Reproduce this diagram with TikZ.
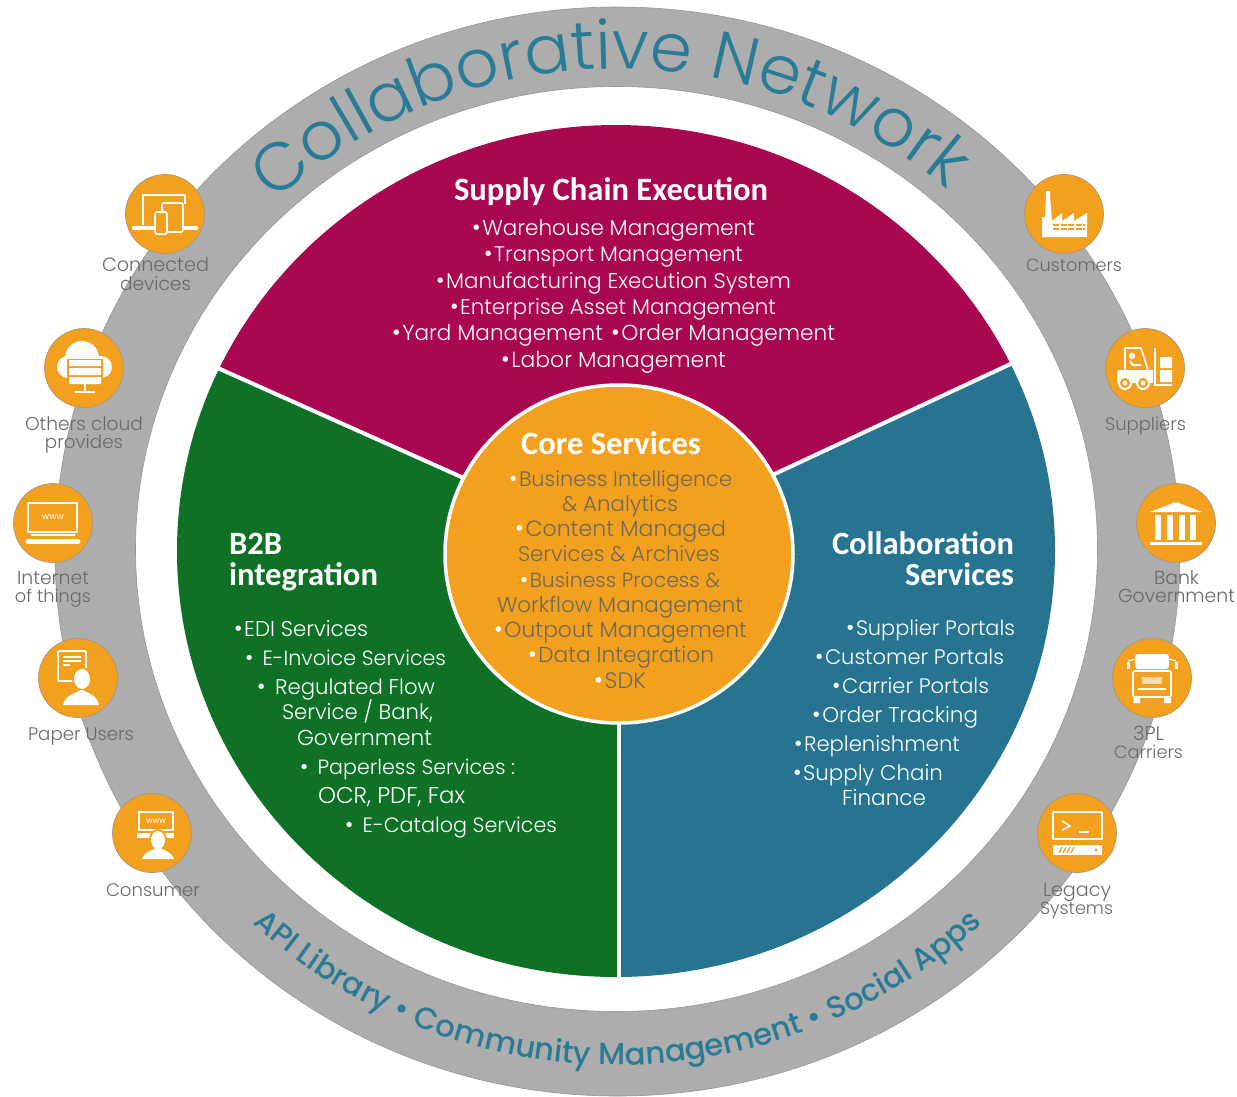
\documentclass[tikz,border=0pt]{standalone}
\usepackage{fontspec}
\usepackage{graphicx}
\usetikzlibrary{decorations.text}
\setmainfont{Poppins}
\newfontfamily\gothic{Poppins}[UprightFont=* Light]
\newfontfamily\medf{Poppins}[UprightFont=* Medium]
\newfontfamily\headf{Carlito}[BoldFont=* Bold]
\definecolor{ringg}{HTML}{ADADAD}
\definecolor{ringe}{HTML}{959595}
\definecolor{magen}{HTML}{A90750}
\definecolor{gree}{HTML}{0E7126}
\definecolor{blu}{HTML}{26748F}
\definecolor{oran}{HTML}{F3A01F}
\definecolor{teal2}{HTML}{2A7C96}
\definecolor{lbl}{HTML}{6A6A6A}
\definecolor{core}{HTML}{6F6A55}
\tikzset{
  linetxt/.style={anchor=mid west,inner sep=0pt,outer sep=0pt,font=\gothic\fontsize{22}{22}\selectfont},
  headtxt/.style={anchor=mid west,inner sep=0pt,outer sep=0pt,text=white,font=\headf\bfseries\fontsize{30}{30}\selectfont},
  badge/.style={circle,fill=oran,draw=ringe!80!oran,line width=.7pt,minimum width=79pt,inner sep=0pt},
  ic/.style={draw=white,line width=1.6pt,line join=round}
}
\newcommand{\wline}[6]{\node[linetxt,text=#5] (#1) at (#2,-#4-5) {\resizebox{\dimexpr #3pt-#2pt\relax}{!}{#6}};}
\newcommand{\whead}[5]{\node[headtxt] (#1) at (#2,-#4-8) {\resizebox{\dimexpr #3pt-#2pt\relax}{!}{#5}};}
\newcommand{\bul}{{\color{white}\fontsize{24}{24}\selectfont\raisebox{.02em}{•}}\hspace{.08em}}
\begin{document}
\begin{tikzpicture}[x=1pt,y=1pt]
\useasboundingbox (0,0) rectangle (1237,-1096);
% ring
\fill[ringg,draw=ringe,line width=.6pt,even odd rule] (617.5,-551.5) ellipse [x radius=562.5,y radius=544.5] (616.5,-549) ellipse [x radius=481,y radius=462.5];
% wedges
\begin{scope}
\clip (618,-547) -- (10,-275) -- (10,0) -- (1230,0) -- (1213,-269) -- cycle;
\fill[magen] (616,-551) ellipse [x radius=439,y radius=426];
\end{scope}
\begin{scope}
\clip (618,-547) -- (10,-275) -- (0,-1096) -- (618,-1096) -- cycle;
\fill[gree] (616,-551) ellipse [x radius=439,y radius=426];
\end{scope}
\begin{scope}
\clip (618,-547) -- (1213,-269) -- (1237,-1096) -- (618,-1096) -- cycle;
\fill[blu] (616,-551) ellipse [x radius=439,y radius=426];
\end{scope}
\draw[white,line width=4pt] (618,-547) -- (211,-365);
\draw[white,line width=4pt] (618,-547) -- (1017,-361);
\draw[white,line width=4pt] (619,-547) -- (619,-980);
\draw[white,line width=3.5pt,fill=oran] (619,-554) ellipse [x radius=174,y radius=169];
% curved titles
\path[decorate,decoration={text along path,text align=center,
  text={|\gothic\fontsize{67.5}{67.5}\selectfont\color{teal2}|Collaborative Network}}]
  (617.5,-551) ++(151:497 and 482) arc [start angle=151,end angle=31,x radius=497,y radius=482];
\path[decorate,decoration={text along path,text align=center,
  text={|\medf\fontsize{30.6}{30.6}\selectfont\color{teal2}|API Library • Community Management • Social Apps}}]
  (617.5,-550) ++(220:530 and 515) arc [start angle=220,end angle=320,x radius=530,y radius=515];
% badges
\node[badge] (b1) at (165,-214) {};
\node[badge] (b2) at (84,-368) {};
\node[badge] (b3) at (53,-523) {};
\node[badge] (b4) at (78,-678) {};
\node[badge] (b5) at (152,-833) {};
\node[badge] (b6) at (1064,-214) {};
\node[badge] (b7) at (1145,-368) {};
\node[badge] (b8) at (1176,-523) {};
\node[badge] (b9) at (1152,-678) {};
\node[badge] (b10) at (1077,-833) {};
% icon: connected devices
\begin{scope}[shift={(165,-214)}]
\draw[ic] (-22,-11) -- (-22,19) -- (20,19) -- (20,10);
\draw[white,line width=4pt,line cap=round] (-31,-14) -- (31,-14);
\draw[ic,fill=oran,rounded corners=1.5pt] (-3,-18) rectangle (18,11);
\draw[ic,fill=oran,rounded corners=1.5pt] (-10,-20) rectangle (2,2);
\end{scope}
% icon: cloud
\begin{scope}[shift={(84,-368)}]
\fill[white] (-2,10) circle (17) (-16,1) circle (11) (17,1) circle (11) (-16,-10) rectangle (17,5);
\fill[oran] (-17,9.5) rectangle (19,-17);
\fill[white] (-15,8) rectangle (17,2) (-15,0) rectangle (17,-7) (-15,-9) rectangle (17,-16);
\draw[white,line width=1.4pt] (1,-16) -- (1,-24) (-9,-24) -- (11,-24);
\end{scope}
% icon: laptop www
\begin{scope}[shift={(53,-523)}]
\draw[ic] (-25,20) rectangle (24,-9);
\node[inner sep=0pt,text=white,font=\fontsize{9}{9}\selectfont] (w1) at (0,6) {www};
\draw[white,line width=2pt] (-22,-12) -- (22,-12);
\draw[white,line width=5pt,line cap=round] (-25,-18) -- (25,-18);
\end{scope}
% icon: paper user
\begin{scope}[shift={(78,-678)}]
\draw[ic,rounded corners=1pt] (-20,27) rectangle (8,-3);
\draw[white,line width=1.4pt] (-15,21) -- (3,21) (-15,17) -- (3,17) (-15,13) -- (-8,13);
\fill[oran] (4,-1) ellipse [x radius=10,y radius=12];
\fill[white] (4,-1) ellipse [x radius=8,y radius=10];
\fill[white] (-15,-27) .. controls (-13,-17) and (-2,-15) .. (3,-12) -- (5,-12) .. controls (10,-15) and (19,-17) .. (21,-27) -- cycle;
\end{scope}
% icon: consumer
\begin{scope}[shift={(152,-833)}]
\draw[ic] (-13,21) rectangle (21,3);
\node[inner sep=0pt,text=white,font=\fontsize{8}{8}\selectfont] (w2) at (4,12) {www};
\fill[white] (-15,0) rectangle (22,-5);
\fill[oran] (6,-7) ellipse [x radius=9,y radius=11];
\fill[white] (6,-7) ellipse [x radius=7,y radius=9];
\fill[white] (-10,-26) .. controls (-8,-19) and (0,-17) .. (4,-15) -- (8,-15) .. controls (12,-17) and (20,-19) .. (22,-26) -- cycle;
\end{scope}
% icon: factory
\begin{scope}[shift={(1064,-214)}]
\fill[white] (-22,-23) -- (-22,-3) -- (-19,-3) -- (-18,18) -- (-18,23) -- (-14,23) -- (-14,18) -- (-12,-7) -- (-2,1) -- (-2,-7) -- (10,1) -- (10,-7) -- (23,1) -- (23,-23) -- cycle;
\draw[oran,line width=1.6pt,dash pattern=on 6pt off 1.5pt] (-11,-11) -- (21,-11) (-11,-15) -- (21,-15);
\end{scope}
% icon: forklift
\begin{scope}[shift={(1145,-368)}]
\draw[ic] (-20,-2) -- (-20,20) -- (-4,20) -- (3,-2);
\fill[white] (-13,12) circle (3.2);
\draw[white,line width=2pt] (-15,7) -- (-12,3) -- (-4,3);
\fill[white] (-28,-2) -- (8,-2) -- (8,-15) -- (-28,-15) -- cycle;
\fill[white] (-20,-15) circle (7) (-2,-15) circle (7);
\fill[oran] (-20,-15) circle (5) (-2,-15) circle (5);
\fill[white] (-20,-15) circle (2.4) (-2,-15) circle (2.4);
\draw[white,line width=1.6pt] (10,20) -- (10,-17) -- (27,-17);
\fill[white] (15,11) rectangle (27,0) (15,-2) rectangle (27,-14);
\end{scope}
% icon: bank
\begin{scope}[shift={(1176,-523)}]
\fill[white] (-26,11) -- (0,21) -- (26,11) -- cycle;
\foreach \cx in {-18,-6,6,17} {\fill[white] (\cx-2.8,8) rectangle (\cx+2.8,-17);}
\fill[white] (-26,-19) rectangle (26,-22);
\end{scope}
% icon: truck
\begin{scope}[shift={(1152,-678)}]
\fill[white,rounded corners=3pt] (-17,24) rectangle (17,9);
\draw[ic,rounded corners=2pt] (-19,7) rectangle (19,-19);
\draw[white,line width=3pt] (-24,16) -- (-24,9) (24,16) -- (24,9);
\draw[white,line width=1.2pt] (-24,17) -- (-17,19) (24,17) -- (17,19);
\fill[white,opacity=.65] (-10,1) rectangle (10,-6);
\draw[white,line width=1.4pt] (-14,-11) -- (14,-11);
\fill[white] (-19,-20) rectangle (-12,-25) (12,-20) rectangle (19,-25);
\end{scope}
% icon: terminal
\begin{scope}[shift={(1077,-833)}]
\draw[ic] (-24,21) rectangle (25,-6);
\draw[white,line width=1.6pt] (-15,12) -- (-7,7) -- (-15,3);
\draw[white,line width=1.6pt] (2,1) -- (12,1);
\fill[white] (-24,-12) rectangle (25,-22);
\draw[oran,line width=1.2pt] (-18,-20) -- (-15,-14) (-14,-20) -- (-11,-14) (-10,-20) -- (-7,-14) (-6,-20) -- (-3,-14);
\fill[oran] (19,-17) circle (1.6);
\end{scope}
% badge labels
\wline{l1a}{102}{209}{264}{lbl}{Connected}
\wline{l1b}{120}{191}{283}{lbl}{devices}
\wline{l2a}{25}{143}{423}{lbl}{Others cloud}
\wline{l2b}{45}{123}{441}{lbl}{provides}
\wline{l3a}{17}{89}{577}{lbl}{Internet}
\wline{l3b}{15}{91}{595}{lbl}{of things}
\wline{l4}{28}{134}{733}{lbl}{Paper Users}
\wline{l5}{106}{200}{889}{lbl}{Consumer}
\wline{l6}{1026}{1122}{264}{lbl}{Customers}
\wline{l7}{1105}{1186}{423}{lbl}{Suppliers}
\wline{l8a}{1154}{1199}{577}{lbl}{Bank}
\wline{l8b}{1118}{1235}{595}{lbl}{Government}
\wline{l9a}{1133}{1164}{733}{lbl}{3PL}
\wline{l9b}{1114}{1183}{751}{lbl}{Carriers}
\wline{l10a}{1043}{1111}{889}{lbl}{Legacy}
\wline{l10b}{1040}{1113}{907}{lbl}{Systems}
% Supply chain
\whead{h1}{454}{768}{190}{Supply Chain Execution}
\wline{s1}{472}{755}{228}{white}{\bul Warehouse Management}
\wline{s2}{484}{743}{254}{white}{\bul Transport Management}
\wline{s3}{436}{791}{281}{white}{\bul Manufacturing Execution System}
\wline{s4}{450}{776}{307}{white}{\bul Enterprise Asset Management}
\wline{s5}{392}{603}{333}{white}{\bul Yard Management}
\wline{s6}{611}{835}{333}{white}{\bul Order Management}
\wline{s7}{501}{726}{360}{white}{\bul Labor Management}
% B2B
\whead{h2a}{229}{282}{544}{B2B}
\whead{h2b}{229}{378}{575}{integration}
\wline{g1}{234}{368}{629}{white}{\bul EDI Services}
\wline{g2}{245}{446}{658}{white}{\bul\hspace{.1em} E-Invoice Services}
\wline{g3}{257}{435}{687}{white}{\bul\hspace{.1em} Regulated Flow}
\wline{g4}{282}{433}{712}{white}{Service / Bank,}
\wline{g5}{297}{432}{738}{white}{Government}
\wline{g6}{300}{515}{767}{white}{\bul\hspace{.1em} Paperless Services :}
\wline{g7}{318}{465}{796}{white}{OCR, PDF, Fax}
\wline{g8}{345}{557}{825}{white}{\bul\hspace{.1em} E-Catalog Services}
% Collaboration
\whead{h3a}{832}{1014}{544}{Collaboration}
\whead{h3b}{905}{1014}{575}{Services}
\wline{c1}{846}{1015}{628}{white}{\bul Supplier Portals}
\wline{c2}{815}{1004}{657}{white}{\bul Customer Portals}
\wline{c3}{832}{989}{686}{white}{\bul Carrier Portals}
\wline{c4}{812}{978}{715}{white}{\bul Order Tracking}
\wline{c5}{794}{960}{744}{white}{\bul Replenishment}
\wline{c6}{793}{943}{773}{white}{\bul Supply Chain}
\wline{c7}{842}{926}{798}{white}{Finance}
% Core
\whead{h4}{521}{701}{444}{Core Services}
\wline{k1}{509}{732}{479}{core}{\bul Business Intelligence}
\wline{k2}{562}{678}{504}{core}{\& Analytics}
\wline{k3}{515}{726}{529}{core}{\bul Content Managed}
\wline{k4}{518}{720}{554}{core}{Services \& Archives}
\wline{k5}{520}{720}{580}{core}{\bul Business Process \&}
\wline{k6}{497}{743}{605}{core}{Workflow Management}
\wline{k7}{494}{747}{630}{core}{\bul Outpout Management}
\wline{k8}{528}{714}{655}{core}{\bul Data Integration}
\wline{k9}{594}{646}{681}{core}{\bul SDK}
\end{tikzpicture}
\end{document}
